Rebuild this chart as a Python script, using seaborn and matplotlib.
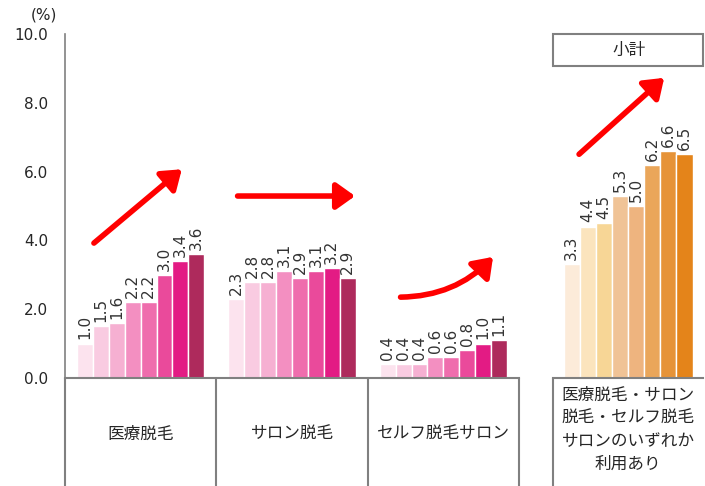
import pandas as pd
import numpy as np
import matplotlib
matplotlib.use("Agg")
import matplotlib.pyplot as plt
import matplotlib.transforms as mtransforms
from matplotlib.patches import FancyArrowPatch, Rectangle
import seaborn as sns

# データ
categories = ["医療脱毛", "サロン脱毛", "セルフ脱毛サロン"]
waves = ["1", "2", "3", "4", "5", "6", "7", "8"]
medical = [1.0, 1.5, 1.6, 2.2, 2.2, 3.0, 3.4, 3.6]
salon = [2.3, 2.8, 2.8, 3.1, 2.9, 3.1, 3.2, 2.9]
self_salon = [0.4, 0.4, 0.4, 0.6, 0.6, 0.8, 1.0, 1.1]
subtotal = [3.3, 4.4, 4.5, 5.3, 5.0, 6.2, 6.6, 6.5]
subtotal_label = "医療脱毛・サロン\n脱毛・セルフ脱毛\nサロンのいずれか\n利用あり"

pink = ["#FCE3EE", "#F9CBE1", "#F6B0D2", "#F38FC1", "#EF6DAD", "#EA4A9B", "#E31B84", "#AE2A5C"]
orange = ["#FCEBD9", "#FBE4BD", "#F7D696", "#F0C396", "#EEB47F", "#EAA65A", "#E69338", "#E4841A"]

rows = []
for cat, vals in zip(categories, [medical, salon, self_salon]):
    for w, v in zip(waves, vals):
        rows.append({"category": cat, "wave": w, "value": v})
df_left = pd.DataFrame(rows)
df_right = pd.DataFrame({"category": ["小計"] * len(waves), "wave": waves, "value": subtotal})

sns.set_style("white")
plt.rcParams["font.family"] = ["DejaVu Sans", "Noto Sans CJK JP"]
jp = ["Noto Sans CJK JP", "DejaVu Sans"]
gray = "#808080"

fig = plt.figure(figsize=(7.05, 4.86), dpi=100)
W, H = 705, 486
ax1 = fig.add_axes([65 / W, (H - 378) / H, 454 / W, 344 / H])
ax2 = fig.add_axes([553 / W, (H - 378) / H, 150 / W, 344 / H])

sns.barplot(data=df_left, x="category", y="value", hue="wave", palette=pink,
            width=0.84, saturation=1, legend=False, ax=ax1, errorbar=None)
sns.barplot(data=df_right, x="category", y="value", hue="wave", palette=orange,
            width=0.86, saturation=1, legend=False, ax=ax2, errorbar=None)

for ax in (ax1, ax2):
    ax.set_ylim(0, 10)
    ax.set_xlim(-0.5, len(ax.get_xticks()) - 0.5)
    ax.set_xlabel("")
    ax.set_ylabel("")
    ax.set_xticks([])
    for c in ax.containers:
        ax.bar_label(c, fmt="%.1f", rotation=90, padding=3, fontsize=11, color="#333333")
    for s in ["top", "right"]:
        ax.spines[s].set_visible(False)
    ax.spines["bottom"].set_color(gray)
    ax.spines["bottom"].set_linewidth(1.5)

ax1.spines["left"].set_color(gray)
ax1.spines["left"].set_linewidth(1.2)
ax1.set_yticks(np.arange(0, 10.1, 2))
ax1.set_yticklabels([f"{t:.1f}" for t in np.arange(0, 10.1, 2)], fontsize=11)
ax1.tick_params(axis="y", direction="in", length=5, color=gray, pad=12)
ax2.spines["left"].set_visible(False)
ax2.set_yticks([])

# 表の罫線
bottom = -108 / 344
tr1 = mtransforms.blended_transform_factory(ax1.transData, ax1.transAxes)
for xv in [-0.5, 0.5, 1.5, 2.5]:
    ax1.plot([xv, xv], [0, bottom], transform=tr1, color=gray, lw=1.5, clip_on=False)
for i, cat in enumerate(categories):
    ax1.text(i, -56 / 344, cat, transform=tr1, ha="center", va="center",
             fontsize=12, family=jp)
ax2.plot([0, 0], [0, bottom], transform=ax2.transAxes, color=gray, lw=1.5, clip_on=False)
ax2.text(0.5, -52 / 344, subtotal_label, transform=ax2.transAxes, ha="center", va="center",
         fontsize=12, family=jp, linespacing=1.45)

# 小計の枠
fig.patches.append(Rectangle((553 / W, (H - 66) / H), 150 / W, 32 / H, transform=fig.transFigure,
                             fill=False, edgecolor=gray, lw=1.5))
fig.text(629 / W, 1 - 50 / H, "小計", ha="center", va="center", fontsize=12, family=jp)
fig.text(44 / W, 1 - 15 / H, "(%)", ha="center", va="center", fontsize=11)

# 矢印
arrow_kw = dict(arrowstyle="-|>,head_length=0.7,head_width=0.5", color="#FF0000",
                lw=4, mutation_scale=16)
ax1.add_patch(FancyArrowPatch((0.059, 0.387), (0.262, 0.612), transform=ax1.transAxes, **arrow_kw))
ax1.add_patch(FancyArrowPatch((0.374, 0.529), (0.645, 0.529), transform=ax1.transAxes, **arrow_kw))
ax1.add_patch(FancyArrowPatch((0.733, 0.235), (0.947, 0.358), transform=ax1.transAxes,
                              connectionstyle="arc3,rad=0.22", **arrow_kw))
ax2.add_patch(FancyArrowPatch((0.16, 0.645), (0.755, 0.878), transform=ax2.transAxes, **arrow_kw))

plt.savefig("out.png", dpi=100)
